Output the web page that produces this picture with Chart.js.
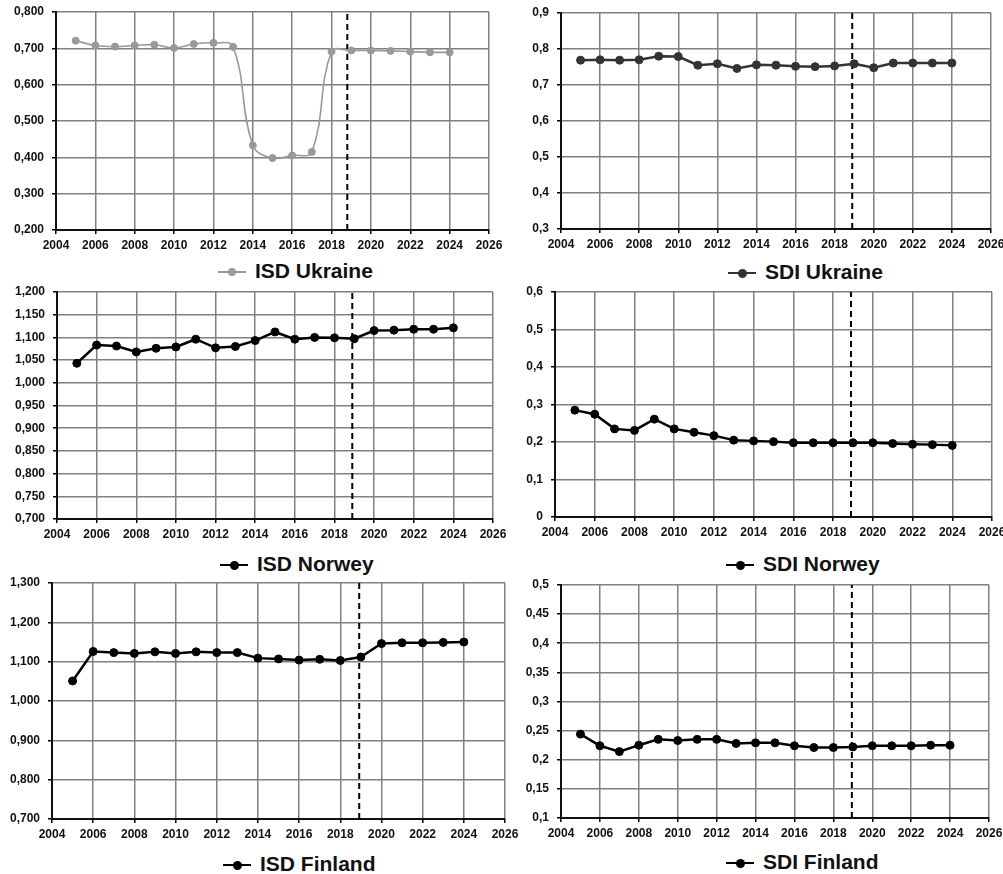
<!DOCTYPE html>
<html>
<head>
<meta charset="utf-8">
<script src="https://cdn.jsdelivr.net/npm/chart.js@4.4.1/dist/chart.umd.min.js"></script>
<style>
    body { margin: 0; background: #fff; width: 1003px; height: 874px; position: relative; overflow: hidden; }
    canvas { position: absolute; }
    .legend { position: absolute; font: bold 21px "Liberation Sans", Arial, sans-serif; line-height: 24px; color: #111; white-space: nowrap; }
    .mark { display: inline-block; position: relative; width: 28px; height: 24px; margin-right: 9px; vertical-align: top; }
    .mark b, .mark i { position: absolute; display: block; }
    .mark i { border-radius: 50%; }
</style>
</head>
<body>
<script>
// years on the x axis
const years = [2005, 2006, 2007, 2008, 2009, 2010, 2011, 2012, 2013, 2014,
               2015, 2016, 2017, 2018, 2019, 2020, 2021, 2022, 2023, 2024];

// series values
const isdUkraine = [0.721, 0.708, 0.705, 0.708, 0.710, 0.701, 0.712, 0.715, 0.704, 0.433,
                    0.398, 0.405, 0.415, 0.691, 0.694, 0.694, 0.693, 0.691, 0.689, 0.689];
const sdiUkraine = [0.769, 0.770, 0.769, 0.770, 0.780, 0.779, 0.755, 0.759, 0.746, 0.756,
                    0.755, 0.752, 0.751, 0.753, 0.759, 0.748, 0.761, 0.761, 0.761, 0.761];
const isdNorway = [1.043, 1.083, 1.081, 1.068, 1.076, 1.079, 1.096, 1.077, 1.080, 1.093,
                   1.112, 1.096, 1.100, 1.099, 1.097, 1.115, 1.116, 1.118, 1.118, 1.121];
const sdiNorway = [0.285, 0.274, 0.235, 0.231, 0.261, 0.235, 0.226, 0.217, 0.205, 0.203,
                   0.201, 0.198, 0.198, 0.198, 0.198, 0.198, 0.196, 0.194, 0.193, 0.191];
const isdFinland = [1.051, 1.126, 1.123, 1.121, 1.125, 1.121, 1.125, 1.123, 1.123, 1.109,
                    1.107, 1.104, 1.106, 1.103, 1.112, 1.146, 1.148, 1.148, 1.149, 1.150];
const sdiFinland = [0.244, 0.224, 0.214, 0.225, 0.235, 0.233, 0.235, 0.235, 0.228, 0.229,
                    0.229, 0.224, 0.221, 0.221, 0.222, 0.224, 0.224, 0.224, 0.225, 0.225];

const seriesNames = ["ISD Ukraine", "SDI Ukraine", "ISD Norwey", "SDI Norwey", "ISD Finland", "SDI Finland"];
const seriesValues = [isdUkraine, sdiUkraine, isdNorway, sdiNorway, isdFinland, sdiFinland];

// y axis tick ranges
const yMins = [0.2, 0.3, 0.7, 0, 0.7, 0.1];
const yMaxs = [0.8, 0.9, 1.2, 0.6, 1.3, 0.5];
const ySteps = [0.1, 0.1, 0.05, 0.1, 0.1, 0.05];
const yDecimals = [3, null, 3, null, 3, null];

// x axis ticks
const xMin = 2004, xMax = 2026, xStep = 2;

// vertical dashed marker (start of forecast)
const forecastYear = [2018.8, 2018.9, 2018.9, 2018.9, 2018.92, 2018.95];

// layout: plot area [left, top, right, bottom] and legend [left, middle]
const plotBoxes = [
    [56, 12, 489, 230], [561, 13, 991, 229],
    [57, 292, 493, 519], [555, 292, 992, 517],
    [52, 583, 505, 819], [561, 585, 989, 818]
];
const legendPos = [[218, 271], [728, 272], [220, 564], [726, 564], [223, 864], [726, 862]];

const AXIS_W = 56, XAXIS_H = 24, PAD_T = 10, PAD_R = 16, PAD_B = 2;

const tickFont = { family: "'Liberation Sans', Arial, sans-serif", weight: "bold", size: 12 };

function fmtY(v, dec) {
    if (dec) return v.toFixed(dec).replace(".", ",");
    return String(Number(v.toFixed(2))).replace(".", ",");
}

function drawPanel(i) {
    const [L, T, R, B] = plotBoxes[i];
    const x0 = L - AXIS_W, y0 = T - PAD_T;
    const w = R - x0 + PAD_R, h = B - y0 + XAXIS_H + PAD_B;

    const canvas = document.createElement("canvas");
    canvas.width = w;
    canvas.height = h;
    canvas.style.left = x0 + "px";
    canvas.style.top = y0 + "px";
    document.body.appendChild(canvas);

    const grey = i === 0;
    const color = grey ? "#999" : (i === 1 ? "#333" : "#000");

    new Chart(canvas.getContext("2d"), {
        type: "line",
        data: {
            datasets: [{
                label: seriesNames[i],
                data: years.map((y, k) => ({ x: y, y: seriesValues[i][k] })),
                borderColor: color,
                backgroundColor: color,
                borderWidth: grey ? 1.6 : 2.5,
                pointRadius: grey ? 3.5 : 4,
                pointBorderWidth: 1,
                pointBackgroundColor: color,
                pointBorderColor: color,
                tension: grey ? 0.4 : 0
            }, {
                label: "forecast",
                data: [{ x: forecastYear[i], y: yMins[i] }, { x: forecastYear[i], y: yMaxs[i] }],
                borderColor: "#000",
                borderWidth: 2,
                borderDash: [6, 4],
                pointRadius: 0
            }]
        },
        options: {
            responsive: false,
            animation: false,
            layout: { padding: { left: 0, top: PAD_T, right: PAD_R, bottom: PAD_B } },
            plugins: { legend: { display: false }, tooltip: { enabled: false } },
            scales: {
                x: {
                    type: "linear",
                    min: xMin, max: xMax,
                    ticks: { stepSize: xStep, callback: v => String(v), font: tickFont, color: "#111", padding: 4, maxRotation: 0, autoSkip: false },
                    grid: { color: "#808080", lineWidth: 1.5, tickLength: 4, tickColor: "#000" },
                    border: { color: "#111", width: 2 },
                    afterFit: s => { s.height = XAXIS_H; s.paddingLeft = 0; s.paddingRight = 0; }
                },
                y: {
                    min: yMins[i], max: yMaxs[i],
                    ticks: { stepSize: ySteps[i], callback: v => fmtY(v, yDecimals[i]), font: tickFont, color: "#111", padding: 8, autoSkip: false },
                    grid: { color: "#808080", lineWidth: 1.5, tickLength: 4, tickColor: "#000" },
                    border: { color: "#111", width: 2 },
                    afterFit: s => { s.width = AXIS_W; s.paddingTop = 0; s.paddingBottom = 0; }
                }
            }
        }
    });

    // legend below the plot
    const [lx, ly] = legendPos[i];
    const lw = grey ? 1.6 : 2.5, r = grey ? 4 : 4.5;
    const leg = document.createElement("div");
    leg.className = "legend";
    leg.style.left = lx + "px";
    leg.style.top = (ly - 12) + "px";
    leg.innerHTML =
        '<span class="mark">' +
        '<b style="left:0;top:' + (13 - lw / 2) + 'px;width:28px;height:' + lw + 'px;background:' + color + '"></b>' +
        '<i style="left:' + (14 - r) + 'px;top:' + (13 - r) + 'px;width:' + (2 * r) + 'px;height:' + (2 * r) + 'px;background:' + color + '"></i>' +
        '</span>' + seriesNames[i];
    document.body.appendChild(leg);
}

for (let i = 0; i < seriesNames.length; i++) drawPanel(i);
</script>
</body>
</html>
